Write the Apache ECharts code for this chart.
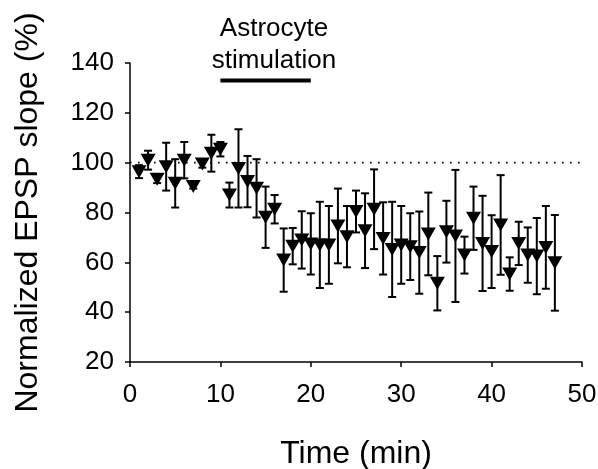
<!DOCTYPE html>
<html>
<head>
<meta charset="utf-8">
<script src="https://cdn.jsdelivr.net/npm/echarts@6/dist/echarts.min.js"></script>
<style>
html,body{margin:0;padding:0;background:#fff;}
#chart{width:598px;height:469px;}
</style>
</head>
<body>
<div id="chart"></div>
<script>
// Data
var times = [1,2,3,4,5,6,7,8,9,10,11,12,13,14,15,16,17,18,19,20,21,22,23,24,25,26,27,28,29,30,31,32,33,34,35,36,37,38,39,40,41,42,43,44,45,46,47];
var means = [96.4,101,93.3,98.4,91.7,101,90.4,99.5,103.8,105.4,87,97.7,92.4,89.7,78.1,81.3,60.9,66.5,69,67.4,67,67,74.6,70.3,80.4,72.7,81.3,69.6,65.2,67,66.3,63.9,71.4,51.6,72.3,70.6,62.9,77.7,67.6,64.3,75,55.3,67.6,62.9,62.5,66,59.8];
var sems = [2.6,3.8,1.5,9.6,9.7,7.3,0.8,1.5,7.4,2.9,5,15.7,10.3,11.7,12.3,5.7,12.7,7.3,11.5,12.3,17.3,15.6,15,12.3,8.4,15,16,14.5,19.1,15.6,13.4,16.5,16.6,10.9,12.4,26.5,7.4,12.7,19.1,14.6,20,6.7,8.7,11.1,15.3,16.6,19.2];
var baseline = 100;
var stimStart = 10, stimEnd = 20, stimLevel = 133;
var stimText = ['Astrocyte', 'stimulation'];
var xTicks = [0, 50, 10];   // min, max, interval
var yTicks = [20, 140, 20]; // min, max, interval

var FONT = 'Liberation Sans, Arial, sans-serif';

var pts = times.map(function (t, i) { return [t, means[i]]; });
var errs = times.map(function (t, i) { return [t, means[i] - sems[i], means[i] + sems[i]]; });

var chart = echarts.init(document.getElementById('chart'), null, {renderer: 'canvas'});
chart.setOption({
  animation: false,
  backgroundColor: '#fff',
  grid: {left: 130, right: 16, top: 63, bottom: 107, containLabel: false, outerBoundsMode: 'none'},
  xAxis: {
    type: 'value', min: xTicks[0], max: xTicks[1], interval: xTicks[2],
    name: 'Time (min)', nameLocation: 'middle', nameGap: 76,
    nameTextStyle: {fontFamily: FONT, fontSize: 32, color: '#000'},
    axisLine: {show: true, onZero: false, lineStyle: {color: '#000', width: 1.5}},
    axisTick: {show: true, inside: false, length: 5, lineStyle: {color: '#000', width: 1.5}},
    axisLabel: {fontFamily: FONT, fontSize: 26, color: '#000', margin: 20},
    splitLine: {show: false}
  },
  yAxis: {
    type: 'value', min: yTicks[0], max: yTicks[1], interval: yTicks[2],
    name: 'Normalized EPSP slope (%)', nameLocation: 'middle', nameGap: 86,
    nameTextStyle: {fontFamily: FONT, fontSize: 32, color: '#000'},
    axisLine: {show: true, onZero: false, lineStyle: {color: '#000', width: 1.5}},
    axisTick: {show: true, inside: false, length: 5, lineStyle: {color: '#000', width: 1.5}},
    axisLabel: {fontFamily: FONT, fontSize: 26, color: '#000', margin: 16},
    splitLine: {show: false}
  },
  series: [
    {
      type: 'line', data: [[xTicks[0], baseline], [xTicks[1], baseline]],
      symbol: 'none', silent: true, z: 1,
      lineStyle: {color: '#000', width: 1.6, type: [1.6, 6.4]}
    },
    {
      type: 'line', data: [[stimStart, stimLevel], [stimEnd, stimLevel]],
      symbol: 'none', silent: true, z: 2,
      lineStyle: {color: '#000', width: 4, cap: 'butt'}
    },
    {
      type: 'custom', data: errs, z: 3,
      renderItem: function (params, api) {
        var x = api.value(0);
        var lo = api.coord([x, api.value(1)]);
        var hi = api.coord([x, api.value(2)]);
        var w = 4;
        var st = {stroke: '#000', lineWidth: 2};
        return {
          type: 'group',
          children: [
            {type: 'line', shape: {x1: lo[0], y1: lo[1], x2: hi[0], y2: hi[1]}, style: st},
            {type: 'line', shape: {x1: hi[0] - w, y1: hi[1], x2: hi[0] + w, y2: hi[1]}, style: st},
            {type: 'line', shape: {x1: lo[0] - w, y1: lo[1], x2: lo[0] + w, y2: lo[1]}, style: st}
          ]
        };
      }
    },
    {
      type: 'scatter', data: pts, z: 4,
      symbol: 'triangle', symbolRotate: 180, symbolSize: [15, 13],
      itemStyle: {color: '#000', opacity: 1}
    }
  ],
  graphic: [
    {
      type: 'text', x: 274, y: 45,
      style: {
        text: stimText.join('\n'), fontFamily: FONT, fontSize: 26, lineHeight: 32,
        fill: '#000', align: 'center', verticalAlign: 'middle'
      }
    }
  ]
});
</script>
</body>
</html>
